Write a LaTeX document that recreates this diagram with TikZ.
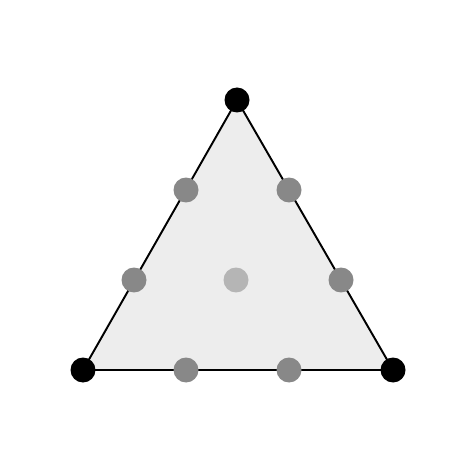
\documentclass[tikz,border=0pt]{standalone}
\usepackage{tikz}
\usetikzlibrary{positioning}
\definecolor{facegray}{RGB}{237,237,237}
\definecolor{edgegray}{RGB}{136,136,136}
\definecolor{midgray}{RGB}{181,181,181}

\begin{document}
\begin{tikzpicture}[x=0.02cm, y=-0.02cm,
    dotbase/.style={circle, inner sep=0pt, minimum size=0.5cm},
    vertexdot/.style={dotbase, fill=black},
    edgedot/.style={dotbase, fill=edgegray},
    centerdot/.style={dotbase, fill=midgray}]
    \useasboundingbox (0,0) rectangle (472,472);
    % corners of the simplex
    \coordinate (left) at (83,370);
    \coordinate (right) at (393,370);
    \coordinate (top) at (237,100);
    \draw[fill=facegray, line width=1.1pt, line join=round]
      (left) -- (right) -- (top) -- cycle;
    % lattice points
    \node[edgedot] (e1) at (186,190) {};
    \node[edgedot] (e2) at (289,190) {};
    \node[edgedot] (e3) at (134,280) {};
    \node[edgedot] (e4) at (341,280) {};
    \node[edgedot] (e5) at (186,370) {};
    \node[edgedot] (e6) at (289,370) {};
    \node[centerdot] (c) at (236,280) {};
    \node[vertexdot] (vl) at (left) {};
    \node[vertexdot] (vr) at (right) {};
    \node[vertexdot] (vt) at (top) {};
\end{tikzpicture}
\end{document}
